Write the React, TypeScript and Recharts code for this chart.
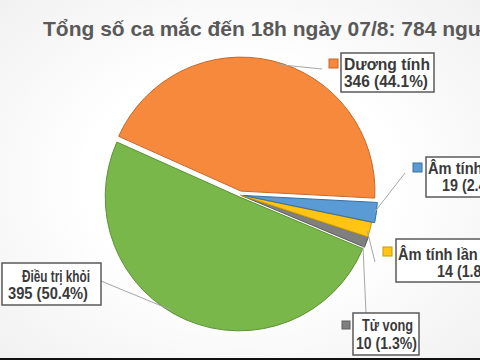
import React from "react";
import { PieChart, Pie, Cell } from "recharts";

// ---- data ----
const categories = ["Dương tính", "Điều trị khỏi", "Tử vong", "Âm tính lần 2", "Âm tính lần 1"];
const values = [346, 395, 10, 14, 19];
const percentLabels = ["44.1%", "50.4%", "1.3%", "1.8%", "2.4%"];
const title = "Tổng số ca mắc đến 18h ngày 07/8: 784 người";

// ---- styles ----
const fills = ["#F6893B", "#7AB74B", "#7F7F7F", "#FFC414", "#5B9BD5"];
const strokes = ["#C7682A", "#5C9234", "#5E5E5E", "#C99A00", "#3A6E9E"];
const explode = [4, 2, 1, 0.5, 3.5];
const CX = 240;
const CY = 195;
const R = 134;
const START = -3;

type Layout = {
  box: [number, number, number, number];
  square: [number, number, number] | null;
  lineEnd: [number, number];
  angleShift: number;
  fontSize: number;
  line1: [number, number, number];
  line2: [number, number, number];
};

// line: [x start, baseline y, text width]
const layouts: Layout[] = [
  { box: [341, 53, 93, 39], square: [329, 59, 9], lineEnd: [322, 69], angleShift: -3, fontSize: 16, line1: [344, 70, 86], line2: [344, 87, 84] },
  { box: [2, 263, 99, 42], square: null, lineEnd: [101, 281], angleShift: -7.5, fontSize: 16, line1: [22, 282, 68], line2: [8, 299, 80] },
  { box: [353, 313, 66, 42], square: [342, 321, 8], lineEnd: [366, 313], angleShift: -2, fontSize: 16, line1: [362, 331, 51], line2: [356, 349, 61] },
  { box: [396, 239, 130, 43], square: [383, 247, 9], lineEnd: [375, 262], angleShift: -1, fontSize: 16, line1: [398, 260, 92], line2: [437, 277, 62] },
  { box: [426, 157, 100, 40], square: [413, 163, 9], lineEnd: [405, 173], angleShift: 0, fontSize: 16, line1: [428, 174, 92], line2: [442, 191, 62] },
];

const rows = categories.map((name, i) => ({ name, value: values[i], pct: percentLabels[i] }));
const total = values.reduce((a, b) => a + b, 0);
const midAngles = (() => {
  let acc = START;
  return values.map((v) => {
    const span = (v / total) * 360;
    const m = acc + span / 2;
    acc += span;
    return m;
  });
})();

const RAD = Math.PI / 180;
const FONT = "'Liberation Sans', Arial, sans-serif";

function makeLabel(sliceIndex: number) {
  return (props: any) => {
    const { cx, cy, midAngle, outerRadius, index } = props;
    if (index !== sliceIndex) return <g />;
    const L = layouts[index];
    const a = (midAngle + L.angleShift) * RAD;
    const sx = cx + (outerRadius - 2) * Math.cos(a);
    const sy = cy - (outerRadius - 2) * Math.sin(a);
    const row = rows[index];
    return (
      <g>
        <line x1={sx} y1={sy} x2={L.lineEnd[0]} y2={L.lineEnd[1]} stroke="#A6A6A6" strokeWidth={1} />
        {L.square && (
          <rect x={L.square[0]} y={L.square[1]} width={L.square[2]} height={L.square[2]} fill={fills[index]} stroke={strokes[index]} strokeWidth={1} />
        )}
        <rect x={L.box[0]} y={L.box[1]} width={L.box[2]} height={L.box[3]} fill="#FFFFFF" stroke="#5A5A5A" strokeWidth={1.5} />
        <text
          x={L.line1[0]}
          y={L.line1[1]}
          textLength={L.line1[2]}
          lengthAdjust="spacingAndGlyphs"
          fontFamily={FONT}
          fontWeight="bold"
          fontSize={L.fontSize}
          fill="#3A3A3A"
        >
          {row.name}
        </text>
        <text
          x={L.line2[0]}
          y={L.line2[1]}
          textLength={L.line2[2]}
          lengthAdjust="spacingAndGlyphs"
          fontFamily={FONT}
          fontWeight="bold"
          fontSize={L.fontSize}
          fill="#3A3A3A"
        >
          {`${row.value} (${row.pct})`}
        </text>
      </g>
    );
  };
}

export default function App() {
  return (
    <div
      style={{
        position: "absolute",
        left: 0,
        top: 0,
        width: 480,
        height: 360,
        overflow: "hidden",
        background: "radial-gradient(ellipse at center, #ffffff 45%, #f1f1f1 100%)",
      }}
    >
      <div
        style={{
          position: "absolute",
          left: 43,
          top: 18,
          fontFamily: FONT,
          fontWeight: "bold",
          fontSize: 21,
          lineHeight: "21px",
          color: "#595959",
          whiteSpace: "nowrap",
        }}
      >
        {title}
      </div>
      <div style={{ position: "absolute", left: 0, top: 0 }}>
        <PieChart width={480} height={360} margin={{ top: 0, right: 0, bottom: 0, left: 0 }}>
          {rows.map((_, i) => (
            <Pie
              key={i}
              data={rows}
              dataKey="value"
              nameKey="name"
              cx={CX + explode[i] * Math.cos(midAngles[i] * RAD)}
              cy={CY - explode[i] * Math.sin(midAngles[i] * RAD)}
              outerRadius={R}
              innerRadius={0}
              startAngle={START}
              endAngle={START + 360}
              isAnimationActive={false}
              labelLine={false}
              label={makeLabel(i)}
            >
              {rows.map((__, j) => (
                <Cell
                  key={j}
                  fill={j === i ? fills[j] : "none"}
                  stroke={j === i ? strokes[j] : "none"}
                  strokeWidth={1}
                />
              ))}
            </Pie>
          ))}
        </PieChart>
      </div>
      <div style={{ position: "absolute", left: 0, top: 358, width: 480, height: 2, background: "#111" }} />
    </div>
  );
}
